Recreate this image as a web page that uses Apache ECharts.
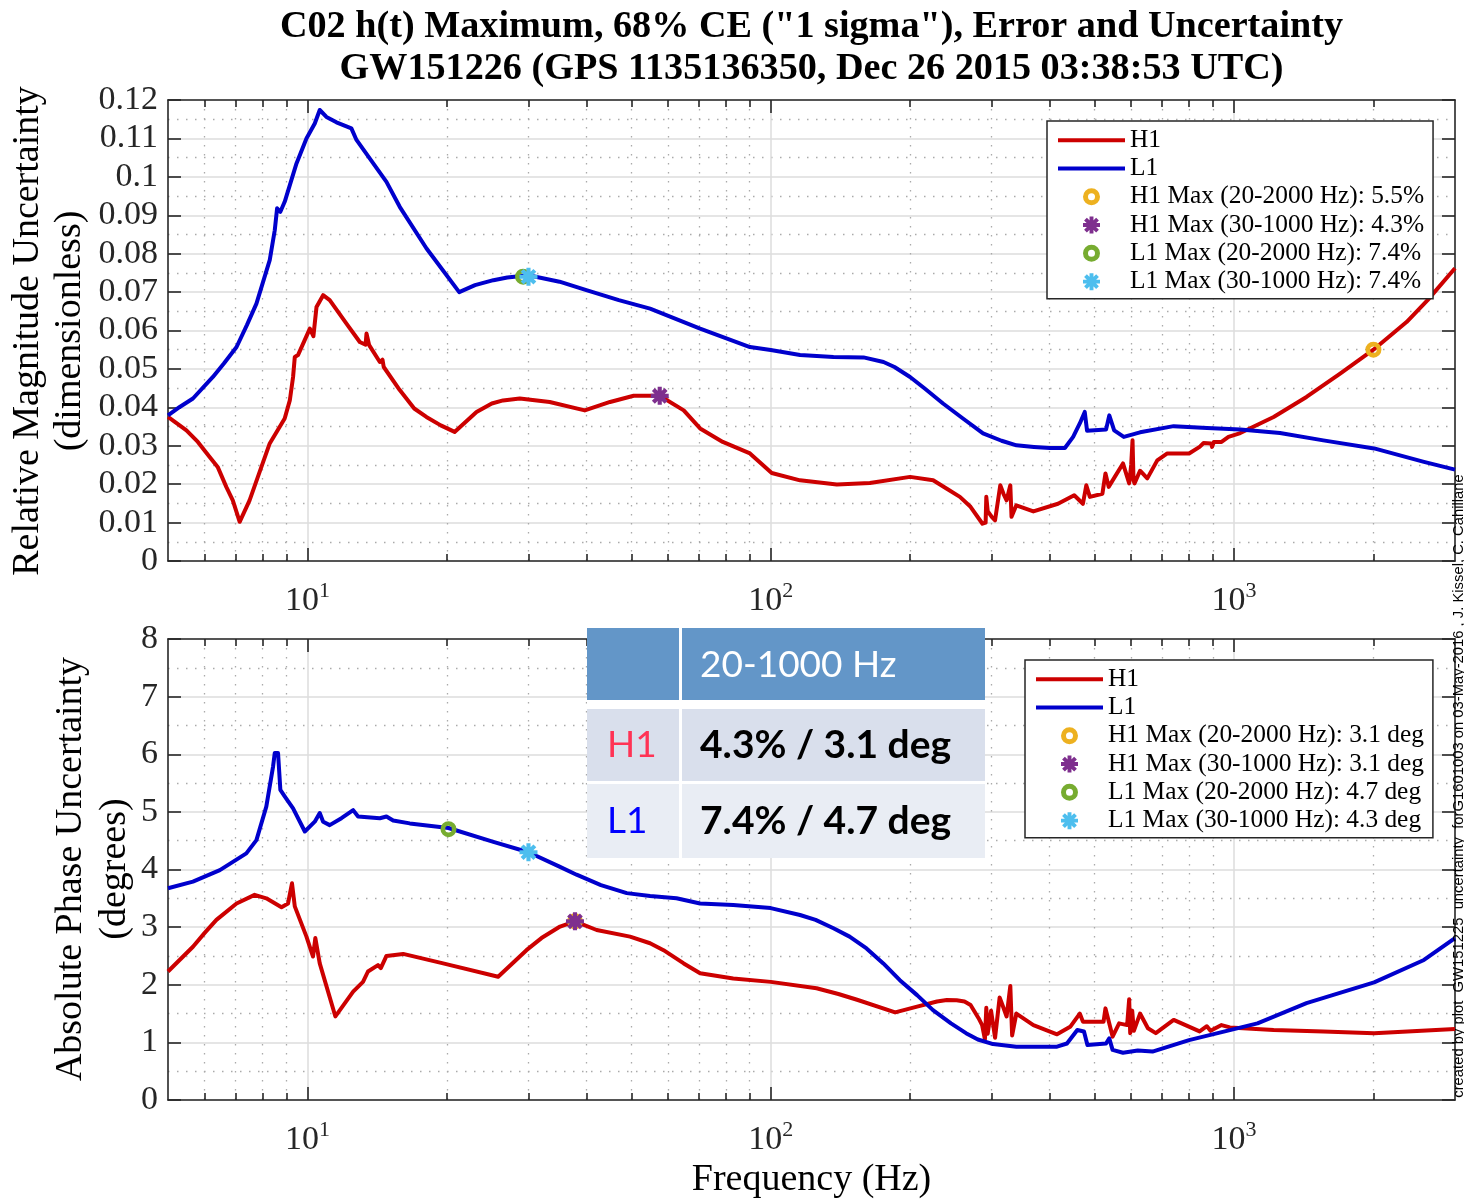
<!DOCTYPE html>
<html>
<head>
<meta charset="utf-8">
<title>C02 h(t) Maximum Error and Uncertainty - GW151226</title>
<script src="https://cdn.jsdelivr.net/npm/echarts@6.0.0/dist/echarts.min.js"></script>
<style>
  html, body { margin: 0; padding: 0; background: #fff; }
  #chart { width: 1464px; height: 1199px; }
</style>
</head>
<body>
<div id="chart"></div>
<script>
// ---- Data: [frequency (Hz), value] ----
// Relative magnitude uncertainty (dimensionless)
const magH1 = [
  [5, 0.0375], [5.48, 0.0340], [5.8, 0.0310], [6.15, 0.0271], [6.4, 0.0245], [6.68, 0.0193], [6.9, 0.0158],
  [7.14, 0.0102], [7.50, 0.0158], [8.29, 0.0306], [8.93, 0.0371], [9.16, 0.0418], [9.31, 0.0479],
  [9.39, 0.0531], [9.54, 0.0536], [10.12, 0.0605], [10.30, 0.0585], [10.46, 0.0661], [10.81, 0.0692],
  [11.17, 0.0679], [12.14, 0.0618], [12.97, 0.0570], [13.35, 0.0563], [13.41, 0.0592], [13.59, 0.0562],
  [14.33, 0.0518], [14.52, 0.0524], [14.61, 0.0505], [15.82, 0.0445], [17, 0.0397], [18.06, 0.0375],
  [19.4, 0.0353], [20.78, 0.0336], [23.17, 0.0388], [25, 0.0410], [26.44, 0.0418], [28.73, 0.0423],
  [33.33, 0.0414], [39.68, 0.0392], [45, 0.0414], [50.6, 0.0430], [57.6, 0.0430], [64.9, 0.0392],
  [70.4, 0.0345], [78.8, 0.0310], [90.2, 0.0280], [100.5, 0.0229], [115.7, 0.0210], [138.9, 0.0199],
  [163.7, 0.0203], [199.9, 0.0219], [224.2, 0.0210], [240, 0.0188], [256.1, 0.0167], [270, 0.0141],
  [286.5, 0.0097], [291, 0.0100], [292, 0.0167], [294, 0.0130], [300, 0.0115], [305, 0.0106],
  [313, 0.0197], [318, 0.0175], [323, 0.0158], [329, 0.0197], [331, 0.0115], [339, 0.0145],
  [369, 0.0129], [417, 0.0149], [452, 0.0171], [472, 0.0149], [480, 0.0197], [488.6, 0.0167],
  [520, 0.0175], [528, 0.0228], [536.5, 0.0193], [576, 0.0254], [594, 0.0202], [600, 0.0250],
  [604, 0.0314], [607, 0.0210], [610, 0.0202], [627, 0.0235], [650, 0.0215], [683, 0.0262],
  [718, 0.0280], [800, 0.0280], [843, 0.0297], [860, 0.0307], [893, 0.0306], [897, 0.0297],
  [905, 0.0310], [940, 0.0310], [973, 0.0323], [1032, 0.0333], [1218, 0.0375], [1434, 0.0427],
  [1695, 0.0488], [2000, 0.0550], [2358, 0.0622], [2618, 0.0679], [3000, 0.0762]
];
const magL1 = [
  [5, 0.0379], [5.3, 0.0401], [5.66, 0.0423], [6.25, 0.0479], [6.6, 0.0514], [7.03, 0.0557],
  [7.4, 0.0614], [7.76, 0.0670], [8.29, 0.0783], [8.50, 0.0861], [8.60, 0.0918], [8.74, 0.0909],
  [8.93, 0.0935], [9.47, 0.1035], [9.95, 0.1100], [10.37, 0.1139], [10.63, 0.1174], [10.99, 0.1156],
  [11.55, 0.1142], [12.44, 0.1126], [12.76, 0.1096], [14.81, 0.0987], [15.82, 0.0922], [18.06, 0.0814],
  [21.26, 0.0700], [23, 0.0718], [25.2, 0.0731], [27, 0.0738], [30, 0.0744], [35, 0.0727],
  [40, 0.0705], [47, 0.0679], [54.9, 0.0657], [70.4, 0.0605], [90.2, 0.0557], [100, 0.0549],
  [115.7, 0.0536], [136.6, 0.0531], [158.6, 0.0530], [175.2, 0.0518], [185, 0.0505], [199.9, 0.0479],
  [215, 0.0449], [235.5, 0.0410], [260, 0.0371], [287.3, 0.0332], [315, 0.0313], [339.2, 0.0301],
  [370, 0.0297], [400.5, 0.0294], [431.5, 0.0294], [449.6, 0.0323], [464.7, 0.0358], [476.3, 0.0388],
  [481.8, 0.0339], [529.5, 0.0342], [538.1, 0.0379], [551.3, 0.0340], [578.4, 0.0323], [627, 0.0335],
  [741, 0.0351], [874.5, 0.0346], [1031.8, 0.0342], [1257, 0.0333], [1559, 0.0314], [2007, 0.0293],
  [2571, 0.0258], [3000, 0.0238]
];
// Absolute phase uncertainty (degrees)
const phaseH1 = [
  [5, 2.23], [5.66, 2.66], [6, 2.90], [6.36, 3.125], [7.03, 3.41], [7.69, 3.56], [8.15, 3.50],
  [8.79, 3.345], [9.08, 3.41], [9.26, 3.76], [9.39, 3.36], [9.95, 2.835], [10.28, 2.49], [10.40, 2.81],
  [10.63, 2.37], [11.49, 1.45], [12.55, 1.88], [13.18, 2.05], [13.51, 2.23], [14.2, 2.34], [14.4, 2.29],
  [14.81, 2.50], [16.09, 2.535], [19.63, 2.37], [25.8, 2.14], [29.7, 2.60], [32, 2.81], [35.1, 3.01],
  [37.8, 3.10], [42.1, 2.95], [49.7, 2.835], [54.9, 2.72], [58.7, 2.60], [64.9, 2.37], [70.4, 2.20],
  [83, 2.11], [100, 2.05], [125.6, 1.94], [140, 1.84], [153.6, 1.74], [185.6, 1.52], [207, 1.62],
  [228.5, 1.71], [240, 1.735], [252, 1.73], [262, 1.71], [270, 1.65], [281, 1.42], [286, 1.30],
  [290, 1.05], [292, 1.60], [294, 1.15], [299, 1.55], [305, 1.08], [312, 1.78], [318, 1.60],
  [323, 1.45], [329, 1.98], [332, 1.12], [339, 1.50], [369, 1.30], [415, 1.14], [443, 1.27],
  [464.7, 1.50], [472, 1.36], [523, 1.36], [528, 1.59], [547, 1.10], [565, 1.33], [588, 1.30],
  [594, 1.75], [597, 1.16], [603, 1.55], [608, 1.20], [627, 1.50], [652, 1.245], [678, 1.16],
  [741, 1.39], [843, 1.19], [874, 1.28], [890, 1.20], [940, 1.30], [980, 1.26], [1218, 1.215],
  [1559, 1.19], [2007, 1.16], [3000, 1.23]
];
const phaseL1 = [
  [5, 3.675], [5.66, 3.79], [6.47, 3.99], [7.38, 4.28], [7.76, 4.51], [8.15, 5.09], [8.43, 5.79],
  [8.50, 6.02], [8.64, 6.02], [8.74, 5.38], [8.93, 5.27], [9.31, 5.06], [9.87, 4.66], [10.37, 4.83],
  [10.63, 4.98], [10.81, 4.83], [11.17, 4.77], [11.84, 4.89], [12.55, 5.03], [12.86, 4.92], [14.33, 4.89],
  [14.81, 4.92], [15.31, 4.85], [16.63, 4.80], [20.16, 4.72], [25.2, 4.48], [30, 4.30], [35, 4.05],
  [38.1, 3.91], [43, 3.73], [48.9, 3.59], [54.9, 3.54], [62.6, 3.50], [70.4, 3.41], [83, 3.385],
  [100, 3.33], [115.7, 3.21], [125, 3.125], [136.6, 2.98], [148, 2.835], [161, 2.63], [175, 2.37],
  [190, 2.08], [207, 1.82], [224, 1.56], [245, 1.33], [264, 1.16], [280, 1.05], [302, 0.97],
  [339, 0.925], [415, 0.925], [436, 0.98], [459, 1.215], [474.5, 1.19], [482.7, 0.955], [529.5, 0.98],
  [538, 1.07], [547, 0.87], [576, 0.82], [620, 0.86], [667, 0.84], [800, 1.04], [1000, 1.23],
  [1124, 1.33], [1434, 1.68], [2007, 2.04], [2571, 2.43], [3000, 2.81]
];

// Maxima: order H1 20-2000, H1 30-1000, L1 20-2000, L1 30-1000
const maxLabels = ['H1 Max (20-2000 Hz)', 'H1 Max (30-1000 Hz)', 'L1 Max (20-2000 Hz)', 'L1 Max (30-1000 Hz)'];
const magMaxFreq = [2000, 57.6, 29.2, 30];
const magMaxVal = [0.055, 0.043, 0.074, 0.074];
const phaseMaxFreq = [37.8, 37.8, 20.16, 30];
const phaseMaxVal = [3.1, 3.1, 4.7, 4.3];

// Axis ticks (Hz)
const majorFreqs = [10, 100, 1000];
const minorFreqs = [6, 7, 8, 9, 20, 30, 40, 50, 60, 70, 80, 90, 200, 300, 400, 500, 600, 700, 800, 900, 2000];
const freqRange = [5, 3000];

// ---- Styling ----
const SERIF = 'Liberation Serif';
const AX = '#262626';
const RED = '#CC0000', BLUE = '#0000CC';
const MARK_COLORS = ['#EDB120', '#7E2F8E', '#77AC30', '#4DBEEE'];
const LMIN = Math.log10(freqRange[0]), LMAX = Math.log10(freqRange[1]);

function asteriskPath() {
  const L = 10, w = 2.3;
  let d = '';
  [0, 45, 90, 135].forEach(function (deg) {
    const a = deg * Math.PI / 180, c = Math.cos(a), s = Math.sin(a);
    const pts = [[L, w], [-L, w], [-L, -w], [L, -w]].map(function (p) {
      return [p[0] * c - p[1] * s, p[0] * s + p[1] * c];
    });
    d += 'M' + pts.map(function (p) { return p[0].toFixed(3) + ' ' + p[1].toFixed(3); }).join('L') + 'Z';
  });
  return 'path://' + d;
}
const RING = 'path://M0 -8A8 8 0 1 1 0 8A8 8 0 1 1 0 -8ZM0 -3.3A3.3 3.3 0 1 0 0 3.3A3.3 3.3 0 1 0 0 -3.3Z';
const STAR = asteriskPath();
const MARK_SYMBOLS = [RING, STAR, RING, STAR];
const MARK_SIZES = [16, 18, 16, 18];
const LINE_ICON = 'path://M0 0H67V4H0Z';

const grids = [
  { left: 168, top: 100, width: 1287, height: 461, show: false, outerBoundsMode: 'none' },
  { left: 168, top: 639, width: 1287, height: 461, show: false, outerBoundsMode: 'none' }
];

function xAxisFor(gridIndex, position, freqs, isMajor, showLabels) {
  const ax = {
    type: 'value', gridIndex: gridIndex, position: position, min: LMIN, max: LMAX,
    axisLine: { show: isMajor, onZero: false, lineStyle: { color: AX, width: 1.6 } },
    axisTick: { show: true, inside: true, length: isMajor ? 13 : 7,
      customValues: freqs.map(Math.log10), lineStyle: { color: AX, width: 1.6 } },
    axisLabel: { show: false },
    splitLine: { show: false },
    minorTick: { show: false }, minorSplitLine: { show: false }
  };
  if (position === 'bottom') {
    ax.splitLine = isMajor
      ? { show: true, lineStyle: { color: '#dcdcdc', width: 1.5, type: 'solid' } }
      : { show: true, lineStyle: { color: '#aaaaaa', width: 1.3, type: [1.5, 7.5] } };
  }
  if (showLabels) {
    ax.axisLabel = {
      show: true, margin: 23, customValues: freqs.map(Math.log10),
      formatter: function (v) { return '{b|10}{s|' + Math.round(v) + '}'; },
      rich: {
        b: { fontFamily: SERIF, fontSize: 34, color: AX, lineHeight: 34, verticalAlign: 'bottom' },
        s: { fontFamily: SERIF, fontSize: 22, color: AX, lineHeight: 22, verticalAlign: 'bottom', padding: [0, 0, 16, 0] }
      }
    };
  }
  return ax;
}

function yAxisFor(gridIndex, position, max, interval, showLabels, fmt) {
  return {
    type: 'value', gridIndex: gridIndex, position: position, min: 0, max: max, interval: interval,
    axisLine: { show: true, onZero: false, lineStyle: { color: AX, width: 1.6 } },
    axisTick: { show: true, inside: true, length: 13, lineStyle: { color: AX, width: 1.6 } },
    axisLabel: showLabels
      ? { show: true, fontFamily: SERIF, fontSize: 34, color: AX, margin: 10, formatter: fmt }
      : { show: false },
    splitLine: showLabels ? { show: true, lineStyle: { color: '#dcdcdc', width: 1.5 } } : { show: false },
    minorTick: { show: false, splitNumber: 2 },
    minorSplitLine: showLabels
      ? { show: true, lineStyle: { color: '#aaaaaa', width: 1.3, type: [1.5, 7.5] } }
      : { show: false }
  };
}

const xAxes = [];
[0, 1].forEach(function (g) {
  xAxes.push(xAxisFor(g, 'bottom', majorFreqs, true, true));
  xAxes.push(xAxisFor(g, 'bottom', minorFreqs, false, false));
  xAxes.push(xAxisFor(g, 'top', majorFreqs, true, false));
  xAxes.push(xAxisFor(g, 'top', minorFreqs, false, false));
});
const magFmt = function (v) { return v === 0 ? '0' : String(parseFloat(v.toFixed(2))); };
const phaseFmt = function (v) { return String(Math.round(v)); };
const yAxes = [
  yAxisFor(0, 'left', 0.12, 0.01, true, magFmt),
  yAxisFor(0, 'right', 0.12, 0.01, false),
  yAxisFor(1, 'left', 8, 1, true, phaseFmt),
  yAxisFor(1, 'right', 8, 1, false)
];

function toLog(pts) { return pts.map(function (p) { return [Math.log10(p[0]), p[1]]; }); }
function lineSeries(name, pts, color, xi, yi) {
  return {
    type: 'line', name: name, xAxisIndex: xi, yAxisIndex: yi, data: toLog(pts),
    symbol: 'none', showSymbol: false, clip: true, silent: true, animation: false, z: 3,
    lineStyle: { color: color, width: 4, join: 'round' }, itemStyle: { color: color }
  };
}
function markerSeries(name, f, v, i, xi, yi) {
  return {
    type: 'scatter', name: name, xAxisIndex: xi, yAxisIndex: yi, data: [[Math.log10(f), v]],
    symbol: MARK_SYMBOLS[i], symbolSize: MARK_SIZES[i], silent: true, animation: false, z: 4,
    itemStyle: { color: MARK_COLORS[i], opacity: 1 }
  };
}

const magNames = maxLabels.map(function (s, i) { return s + ': ' + (magMaxVal[i] * 100).toFixed(1) + '%'; });
const phaseNames = maxLabels.map(function (s, i) { return s + ': ' + phaseMaxVal[i].toFixed(1) + ' deg'; });

const series = [
  lineSeries('H1', magH1, RED, 0, 0),
  lineSeries('L1', magL1, BLUE, 0, 0)
];
magNames.forEach(function (n, i) { series.push(markerSeries(n, magMaxFreq[i], magMaxVal[i], i, 0, 0)); });
series.push(lineSeries('H1', phaseH1, RED, 4, 2));
series.push(lineSeries('L1', phaseL1, BLUE, 4, 2));
phaseNames.forEach(function (n, i) { series.push(markerSeries(n, phaseMaxFreq[i], phaseMaxVal[i], i, 4, 2)); });

function legendFor(left, top, names) {
  return {
    show: true, orient: 'vertical', left: left, top: top, selectedMode: false,
    data: [{ name: 'H1', icon: LINE_ICON }, { name: 'L1', icon: LINE_ICON }].concat(names),
    itemWidth: 67, itemHeight: 17, itemGap: 0, symbolKeepAspect: true,
    padding: [5, 9, 3, 11],
    backgroundColor: '#ffffff', borderColor: AX, borderWidth: 1.5, borderRadius: 0,
    itemStyle: { borderWidth: 0 },
    textStyle: { fontFamily: SERIF, fontSize: 25.4, color: '#000', lineHeight: 28.3 },
    z: 20
  };
}

function txt(text, x, y, size, opts) {
  opts = opts || {};
  return {
    type: 'text', x: x, y: y, rotation: opts.rotation || 0, z: opts.z || 30, silent: true,
    style: {
      text: text, fontFamily: opts.family || SERIF, fontSize: size, fontWeight: opts.weight || 'normal',
      fill: opts.fill || '#000', align: opts.align || 'center', verticalAlign: 'middle',
      textAlign: opts.align || 'center', textVerticalAlign: 'middle'
    }
  };
}
function rect(x, y, w, h, fill) {
  return { type: 'rect', z: 40, silent: true, shape: { x: x, y: y, width: w, height: h }, style: { fill: fill } };
}

// Summary table (20-1000 Hz)
const TABLE_FONT = 'Lato';
const tableRows = [
  { name: 'H1', color: '#FF3355', text: (magMaxVal[1] * 100).toFixed(1) + '% / ' + phaseMaxVal[1].toFixed(1) + ' deg' },
  { name: 'L1', color: '#0000FF', text: (magMaxVal[3] * 100).toFixed(1) + '% / ' + phaseMaxVal[2].toFixed(1) + ' deg' }
];
const tableEls = [
  rect(587, 628, 398, 230, '#ffffff'),
  rect(587, 628, 92, 72, '#6396C8'),
  rect(682, 628, 303, 72, '#6396C8'),
  rect(587, 709, 92, 72, '#D9DFEC'),
  rect(682, 709, 303, 72, '#D9DFEC'),
  rect(587, 784, 92, 74, '#E9EDF4'),
  rect(682, 784, 303, 74, '#E9EDF4'),
  txt('20-1000 Hz', 700, 665, 37, { family: TABLE_FONT, fill: '#ffffff', align: 'left', z: 50 }),
  txt(tableRows[0].name, 607, 745, 37, { family: TABLE_FONT, fill: tableRows[0].color, align: 'left', z: 50 }),
  txt(tableRows[0].text, 700, 745, 39, { family: TABLE_FONT, weight: 'bold', fill: '#000', align: 'left', z: 50 }),
  txt(tableRows[1].name, 607, 821, 37, { family: TABLE_FONT, fill: tableRows[1].color, align: 'left', z: 50 }),
  txt(tableRows[1].text, 700, 821, 39, { family: TABLE_FONT, weight: 'bold', fill: '#000', align: 'left', z: 50 })
];

const graphicEls = [
  txt('C02 h(t) Maximum, 68% CE ("1 sigma"), Error and Uncertainty', 811.5, 27, 38.2, { weight: 'bold' }),
  txt('GW151226 (GPS 1135136350, Dec 26 2015 03:38:53 UTC)', 811.5, 69, 38.2, { weight: 'bold' }),
  txt('Relative Magnitude Uncertainty', 28, 331, 38, { rotation: Math.PI / 2 }),
  txt('(dimensionless)', 70, 331, 38, { rotation: Math.PI / 2 }),
  txt('Absolute Phase Uncertainty', 71, 869, 38, { rotation: Math.PI / 2 }),
  txt('(degrees)', 115, 869, 38, { rotation: Math.PI / 2 }),
  txt('Frequency (Hz)', 811.5, 1180, 38),
  txt('created by plot_GW151225_uncertainty_forG1601003 on 03-May-2016 , J. Kissel, C. Cahillane',
      1459, 786, 14.8, { family: 'Liberation Sans', rotation: Math.PI / 2 })
].concat(tableEls);

const chart = echarts.init(document.getElementById('chart'), null, { renderer: 'canvas', width: 1464, height: 1199 });
chart.setOption({
  backgroundColor: '#ffffff',
  animation: false,
  grid: grids,
  xAxis: xAxes,
  yAxis: yAxes,
  legend: [legendFor(1047, 121, magNames), legendFor(1025, 660, phaseNames)],
  series: series,
  graphic: { elements: graphicEls }
});
</script>
</body>
</html>
